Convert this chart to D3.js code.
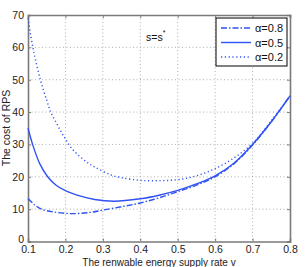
<!DOCTYPE html>
<html>
<head>
<meta charset="utf-8">
<script src="https://cdn.jsdelivr.net/npm/d3@7"></script>
<style>
  body { margin: 0; background: #fff; }
  svg { font-family: "Liberation Sans", Arial, sans-serif; }
</style>
</head>
<body>
<svg width="305" height="267"></svg>
<script>
const svg = d3.select("svg");

// data
const vAlpha08 = [0.1, 0.118, 0.136, 0.17, 0.22, 0.266, 0.3, 0.356, 0.4, 0.45, 0.5, 0.55, 0.6, 0.65, 0.7, 0.75, 0.8];
const costAlpha08 = [13.3, 11.3, 10.0, 9.1, 8.6, 9.0, 9.7, 10.9, 11.9, 13.5, 15.4, 17.4, 20.0, 24.0, 29.8, 37.0, 45.0];

const vAlpha05 = [0.1, 0.114, 0.132, 0.152, 0.176, 0.2, 0.229, 0.278, 0.33, 0.4, 0.45, 0.5, 0.55, 0.6, 0.65, 0.7, 0.75, 0.8];
const costAlpha05 = [35.0, 29.4, 23.9, 20.1, 17.3, 15.7, 14.4, 13.0, 12.45, 13.2, 14.3, 15.8, 17.8, 20.3, 24.2, 30.0, 37.0, 45.0];

const vAlpha02 = [0.1, 0.113, 0.133, 0.151, 0.16, 0.176, 0.19, 0.2, 0.216, 0.238, 0.261, 0.28, 0.321, 0.35, 0.4, 0.45, 0.5, 0.55, 0.6, 0.65, 0.7, 0.75, 0.8];
const costAlpha02 = [69.0, 60.0, 50.0, 43.3, 40.2, 36.6, 33.6, 31.7, 28.9, 26.3, 24.2, 22.9, 20.6, 19.7, 18.9, 18.8, 19.1, 20.3, 22.5, 25.8, 30.3, 37.3, 45.0];

const xTicks = [0.1, 0.2, 0.3, 0.4, 0.5, 0.6, 0.7, 0.8];
const yTicks = [0, 10, 20, 30, 40, 50, 60, 70];

const series = [
  { label: "\u03b1=0.8", v: vAlpha08, c: costAlpha08, dash: "6,2,1.5,2" },
  { label: "\u03b1=0.5", v: vAlpha05, c: costAlpha05, dash: null },
  { label: "\u03b1=0.2", v: vAlpha02, c: costAlpha02, dash: "1.2,2.6" }
];

const mLeft = 28, mRight = 290, mTop = 15, mBottom = 241.5;
const blue = "#2f52f5";

const x = d3.scaleLinear().domain([0.1, 0.8]).range([mLeft, mRight]);
const y = d3.scaleLinear().domain([0, 70]).range([mBottom, mTop]);

// grid
const grid = svg.append("g").attr("stroke", "#9a9a9a").attr("stroke-width", 0.8)
  .attr("stroke-dasharray", "1,2.5");
grid.selectAll(".gx").data(xTicks.slice(1, -1)).join("line")
  .attr("x1", d => x(d)).attr("x2", d => x(d)).attr("y1", mTop).attr("y2", mBottom);
grid.selectAll(".gy").data(yTicks.slice(1, -1)).join("line")
  .attr("y1", d => y(d)).attr("y2", d => y(d)).attr("x1", mLeft).attr("x2", mRight);

// axes (ticks inward, matlab style)
const xAxis = d3.axisBottom(x).tickValues(xTicks).tickSize(-3).tickPadding(4).tickFormat(d3.format(".1f"));
const yAxis = d3.axisLeft(y).tickValues(yTicks).tickSize(-3).tickPadding(4);

const gx = svg.append("g").attr("transform", `translate(0,${mBottom})`).call(xAxis);
const gy = svg.append("g").attr("transform", `translate(${mLeft},0)`).call(yAxis);
const gxt = svg.append("g").attr("transform", `translate(0,${mTop})`).call(d3.axisTop(x).tickValues(xTicks).tickSize(-3).tickFormat(""));
const gyr = svg.append("g").attr("transform", `translate(${mRight},0)`).call(d3.axisRight(y).tickValues(yTicks).tickSize(-3).tickFormat(""));

[gx, gy, gxt, gyr].forEach(g => {
  g.select(".domain").attr("stroke", "#7a7a7a").attr("stroke-width", 1.6);
  g.selectAll(".tick line").attr("stroke", "#7a7a7a");
  g.selectAll(".tick text").attr("fill", "#222").style("font-size", "10.5px")
    .style("font-family", "'Liberation Sans', Arial, sans-serif");
});
gx.selectAll(".tick text").attr("dy", "0.75em");
gy.selectAll(".tick text").filter(d => d === 0).attr("dy", "0.1em");

// curves
const line = d3.line().x(d => x(d[0])).y(d => y(d[1])).curve(d3.curveCatmullRom.alpha(0.5));
series.forEach(s => {
  svg.append("path")
    .datum(s.v.map((v, i) => [v, s.c[i]]))
    .attr("d", line)
    .attr("fill", "none")
    .attr("stroke", blue)
    .attr("stroke-width", 1.4)
    .attr("stroke-dasharray", s.dash);
});

// labels
svg.append("text")
  .attr("x", (mLeft + mRight) / 2).attr("y", 266)
  .attr("text-anchor", "middle").style("font-size", "10px").attr("fill", "#222")
  .text("The renwable energy supply rate v");

svg.append("text")
  .attr("transform", "translate(10,128) rotate(-90)")
  .attr("text-anchor", "middle").style("font-size", "10.5px").attr("fill", "#222")
  .text("The cost of RPS");

const ann = svg.append("text").attr("x", 146).attr("y", 41)
  .style("font-size", "10.5px").attr("fill", "#111");
ann.append("tspan").text("s=s");
ann.append("tspan").attr("dy", -6).style("font-size", "7px").text("*");

// legend
const lg = svg.append("g").attr("transform", "translate(216,18)");
lg.append("rect").attr("width", 71).attr("height", 48)
  .attr("fill", "#fff").attr("stroke", "#000").attr("stroke-width", 1);
series.forEach((s, i) => {
  const yy = 10 + i * 14.5;
  lg.append("line").attr("x1", 5).attr("x2", 35).attr("y1", yy).attr("y2", yy)
    .attr("stroke", blue).attr("stroke-width", 1.4).attr("stroke-dasharray", s.dash);
  lg.append("text").attr("x", 39).attr("y", yy + 4)
    .style("font-size", "11px").attr("fill", "#111").text(s.label);
});
</script>
</body>
</html>
